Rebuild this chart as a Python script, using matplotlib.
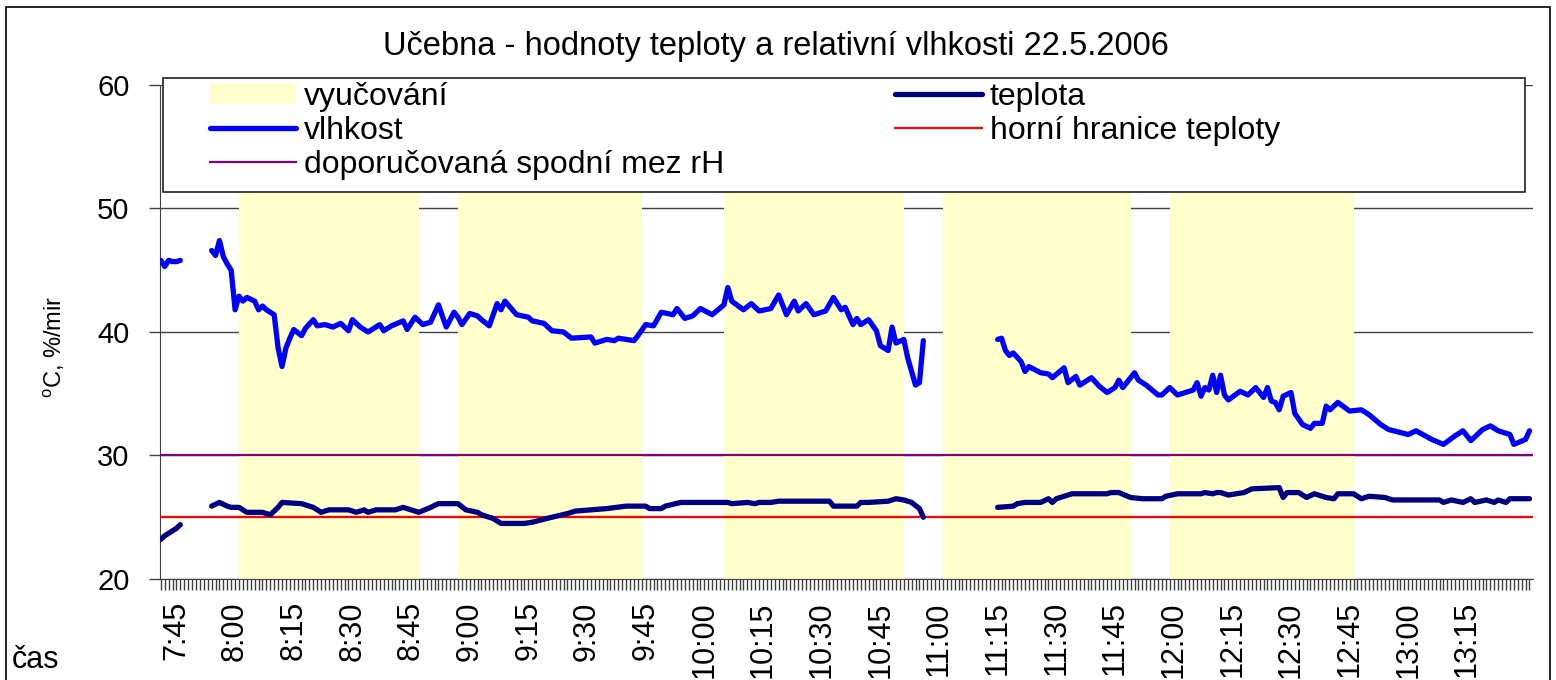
import matplotlib
matplotlib.use("Agg")
import matplotlib.pyplot as plt
from matplotlib.patches import Patch, Rectangle
from matplotlib.lines import Line2D
from matplotlib.ticker import FixedLocator

plt.rcParams['font.family'] = ['Liberation Sans', 'DejaVu Sans']
plt.rcParams['mathtext.fontset'] = 'custom'
plt.rcParams['mathtext.rm'] = 'Liberation Sans'

# vyucovani (lessons)
lesson_start = ["8:01", "8:57", "10:05", "11:01", "11:59"]
lesson_end = ["8:47", "9:44", "10:51", "11:49", "12:46"]

# vlhkost - three measured segments
hum_t1 = ["7:41", "7:42", "7:43", "7:44", "7:45", "7:46"]
hum_v1 = [45.8, 45.3, 45.8, 45.7, 45.7, 45.8]

hum_t2 = ["7:54", "7:55", "7:56", "7:57", "7:58", "7:59", "8:00", "8:01", "8:02", "8:03",
          "8:05", "8:06", "8:07", "8:08", "8:10", "8:11", "8:12", "8:13", "8:14", "8:15",
          "8:17", "8:18", "8:20", "8:21", "8:23", "8:25", "8:27", "8:29", "8:30", "8:32",
          "8:34", "8:37", "8:38", "8:40", "8:43", "8:44", "8:46", "8:48", "8:50", "8:52",
          "8:53", "8:54", "8:56", "8:57", "8:58", "9:00", "9:02", "9:03", "9:05", "9:07",
          "9:08", "9:09", "9:12", "9:15", "9:16", "9:19", "9:21", "9:24", "9:26", "9:31",
          "9:32", "9:35", "9:37", "9:38", "9:42", "9:43", "9:45", "9:47", "9:49", "9:52",
          "9:53", "9:55", "9:57", "9:59", "10:02", "10:05", "10:06", "10:07", "10:10", "10:12",
          "10:14", "10:17", "10:19", "10:21", "10:23", "10:24", "10:26", "10:28", "10:31", "10:33",
          "10:35", "10:36", "10:38", "10:39", "10:40", "10:42", "10:44", "10:45", "10:47", "10:48",
          "10:49", "10:51", "10:52", "10:54", "10:55", "10:56"]
hum_v2 = [46.6, 46.2, 47.4, 46.1, 45.5, 45.0, 41.8, 42.9, 42.5, 42.8,
          42.5, 41.8, 42.1, 41.8, 41.4, 38.7, 37.2, 38.7, 39.5, 40.2,
          39.7, 40.3, 41.0, 40.5, 40.6, 40.4, 40.7, 40.1, 41.0, 40.4,
          40.0, 40.6, 40.1, 40.5, 40.9, 40.2, 41.2, 40.6, 40.8, 42.2,
          41.3, 40.4, 41.6, 41.2, 40.6, 41.5, 41.3, 41.0, 40.5, 42.3,
          41.8, 42.5, 41.4, 41.2, 40.9, 40.7, 40.1, 40.0, 39.5, 39.6,
          39.1, 39.4, 39.3, 39.5, 39.3, 39.7, 40.6, 40.5, 41.6, 41.4,
          41.9, 41.1, 41.3, 41.9, 41.4, 42.2, 43.6, 42.5, 41.8, 42.3,
          41.7, 41.9, 43.0, 41.4, 42.5, 41.7, 42.3, 41.4, 41.7, 42.8,
          41.8, 42.0, 40.6, 41.1, 40.6, 41.0, 40.1, 38.9, 38.5, 40.4,
          39.1, 39.4, 37.9, 35.7, 35.9, 39.3]

hum_t3 = ["11:15", "11:16", "11:17", "11:18", "11:19", "11:21", "11:22", "11:23", "11:26", "11:28",
          "11:29", "11:32", "11:33", "11:35", "11:36", "11:39", "11:41", "11:43", "11:45", "11:46",
          "11:47", "11:50", "11:51", "11:53", "11:56", "11:57", "11:59", "12:01", "12:03", "12:05",
          "12:06", "12:07", "12:08", "12:09", "12:10", "12:11", "12:12", "12:13", "12:14", "12:17",
          "12:19", "12:21", "12:23", "12:24", "12:25", "12:26", "12:27", "12:28", "12:30", "12:31",
          "12:33", "12:35", "12:36", "12:38", "12:39", "12:40", "12:42", "12:45", "12:48", "12:50",
          "12:53", "12:55", "13:00", "13:02", "13:06", "13:09", "13:12", "13:14", "13:16", "13:19",
          "13:21", "13:23", "13:26", "13:27", "13:30", "13:31"]
hum_v3 = [39.4, 39.5, 38.5, 38.1, 38.3, 37.6, 36.8, 37.2, 36.7, 36.6,
          36.3, 37.1, 35.9, 36.4, 35.7, 36.3, 35.6, 35.1, 35.5, 36.1,
          35.5, 36.7, 36.1, 35.7, 34.9, 34.9, 35.5, 34.9, 35.1, 35.3,
          35.9, 34.8, 35.5, 35.3, 36.5, 35.1, 36.5, 34.9, 34.5, 35.2,
          34.9, 35.5, 34.7, 35.5, 34.4, 34.3, 33.7, 34.8, 35.1, 33.4,
          32.5, 32.2, 32.6, 32.6, 34.0, 33.7, 34.3, 33.6, 33.7, 33.3,
          32.5, 32.1, 31.7, 32.0, 31.3, 30.9, 31.6, 32.0, 31.2, 32.1,
          32.4, 32.0, 31.7, 30.9, 31.3, 32.0]

# teplota - three measured segments
tep_t1 = ["7:41", "7:42", "7:43", "7:44", "7:45", "7:46"]
tep_v1 = [23.2, 23.5, 23.7, 23.9, 24.1, 24.4]

tep_t2 = ["7:54", "7:56", "7:58", "7:59", "8:01", "8:03", "8:07", "8:09", "8:11", "8:12",
          "8:17", "8:20", "8:22", "8:24", "8:29", "8:31", "8:33", "8:34", "8:36", "8:41",
          "8:43", "8:47", "8:50", "8:52", "8:57", "8:59", "9:02", "9:03", "9:06", "9:08",
          "9:14", "9:16", "9:21", "9:25", "9:27", "9:35", "9:40", "9:45", "9:46", "9:49",
          "9:50", "9:54", "10:06", "10:07", "10:11", "10:13", "10:14", "10:17", "10:19", "10:32",
          "10:33", "10:39", "10:40", "10:42", "10:47", "10:49", "10:51", "10:53", "10:55", "10:56"]
tep_v2 = [25.9, 26.2, 25.9, 25.8, 25.8, 25.4, 25.4, 25.2, 25.8, 26.2,
          26.1, 25.8, 25.4, 25.6, 25.6, 25.4, 25.6, 25.4, 25.6, 25.6,
          25.8, 25.4, 25.8, 26.1, 26.1, 25.6, 25.4, 25.2, 24.9, 24.5,
          24.5, 24.6, 25.0, 25.3, 25.5, 25.7, 25.9, 25.9, 25.7, 25.7,
          25.9, 26.2, 26.2, 26.1, 26.2, 26.1, 26.2, 26.2, 26.3, 26.3,
          25.9, 25.9, 26.2, 26.2, 26.3, 26.5, 26.4, 26.2, 25.7, 25.0]

tep_t3 = ["11:15", "11:19", "11:20", "11:22", "11:26", "11:28", "11:29", "11:30", "11:34", "11:43",
          "11:44", "11:46", "11:49", "11:52", "11:57", "11:58", "12:01", "12:07", "12:08", "12:10",
          "12:11", "12:12", "12:14", "12:18", "12:20", "12:27", "12:28", "12:29", "12:32", "12:34",
          "12:36", "12:39", "12:41", "12:42", "12:46", "12:48", "12:50", "12:54", "12:56", "13:08",
          "13:09", "13:11", "13:14", "13:16", "13:17", "13:20", "13:22", "13:23", "13:25", "13:26",
          "13:31"]
tep_v3 = [25.8, 25.9, 26.1, 26.2, 26.2, 26.5, 26.2, 26.5, 26.9, 26.9,
          27.0, 27.0, 26.6, 26.5, 26.5, 26.7, 26.9, 26.9, 27.0, 26.9,
          27.0, 27.0, 26.8, 27.0, 27.3, 27.4, 26.6, 27.0, 27.0, 26.6,
          26.9, 26.6, 26.5, 26.9, 26.9, 26.5, 26.7, 26.6, 26.4, 26.4,
          26.2, 26.4, 26.2, 26.5, 26.2, 26.4, 26.2, 26.4, 26.2, 26.5,
          26.5]

horni_hranice = 25
spodni_mez_rh = 30

tick_times = ["7:45", "8:00", "8:15", "8:30", "8:45", "9:00", "9:15", "9:30", "9:45", "10:00",
              "10:15", "10:30", "10:45", "11:00", "11:15", "11:30", "11:45", "12:00", "12:15",
              "12:30", "12:45", "13:00", "13:15"]


def mins(t):
    h, m = t.split(':')
    return int(h) * 60 + int(m)


def to_x(times):
    return [mins(t) for t in times]


W, H = 1556, 680
fig = plt.figure(figsize=(W / 100, H / 100), dpi=100)
ax = fig.add_axes([160 / W, 1 - 579 / H, (1533 - 160) / W, (579 - 85) / H])

# vyucovani - bands
for s, e in zip(lesson_start, lesson_end):
    ax.axvspan(mins(s), mins(e), color='#FFFFCC', lw=0, zorder=1)

ax.axhline(horni_hranice, color='#FF0000', lw=1.6, zorder=3)
ax.axhline(spodni_mez_rh, color='#800080', lw=1.6, zorder=3)

for tt, vv in [(hum_t1, hum_v1), (hum_t2, hum_v2), (hum_t3, hum_v3)]:
    ax.plot(to_x(tt), vv, color='#0000FF', lw=3.8, zorder=4,
            solid_joinstyle='round', solid_capstyle='round')
for tt, vv in [(tep_t1, tep_v1), (tep_t2, tep_v2), (tep_t3, tep_v3)]:
    ax.plot(to_x(tt), vv, color='#000080', lw=3.8, zorder=4,
            solid_joinstyle='round', solid_capstyle='round')

ax.set_xlim(460.8, 811.9)
ax.set_ylim(20, 60)
ax.set_yticks([20, 30, 40, 50, 60])
ax.set_axisbelow(True)
ax.yaxis.grid(True, color='#404040', lw=1)

ax.xaxis.set_major_locator(FixedLocator(to_x(tick_times)))
ax.set_xticklabels(tick_times, rotation=90)
ax.xaxis.set_minor_locator(FixedLocator(list(range(461, 812))))
ax.tick_params(axis='x', which='both', length=8, width=1, color='#404040', pad=8, labelsize=22)
ax.tick_params(axis='y', length=8, width=1, color='#404040', pad=14, labelsize=21)

for sp in ['top', 'right']:
    ax.spines[sp].set_visible(False)
ax.spines['left'].set_color('#404040')
ax.spines['bottom'].set_color('#404040')

ax.set_ylabel(r'$^{\mathrm{o}}$C, %/mir', fontsize=17)
ax.yaxis.set_label_coords(-0.068, 0.47)

# legend box
box = Rectangle((163 / W, 1 - 192 / H), (1525 - 163) / W, (192 - 78) / H,
                transform=fig.transFigure, facecolor='white', edgecolor='#202020',
                lw=1.2, zorder=4.5, clip_on=False)
ax.add_patch(box)

handles = [Patch(facecolor='#FFFFCC', edgecolor='none'),
           Line2D([], [], color='#0000FF', lw=3.8, solid_capstyle='round'),
           Line2D([], [], color='#800080', lw=1.6),
           Line2D([], [], color='#000080', lw=3.8, solid_capstyle='round'),
           Line2D([], [], color='#FF0000', lw=1.6)]
labels = ['vyučování', 'vlhkost', 'doporučovaná spodní mez rH', 'teplota', 'horní hranice teploty']
leg = ax.legend(handles, labels, ncol=2, loc='upper left', frameon=False,
                bbox_to_anchor=(210 / W, 1 - 82 / H), bbox_transform=fig.transFigure,
                borderaxespad=0, borderpad=0, fontsize=23, handlelength=2.7,
                handleheight=0.6, handletextpad=0.25, labelspacing=0.12, columnspacing=5.35)
leg.set_zorder(5)

fig.text(776 / W, 1 - 55 / H, 'Učebna - hodnoty teploty a relativní vlhkosti 22.5.2006',
         ha='center', va='baseline', fontsize=23.5)
fig.text(12 / W, 1 - 668 / H, 'čas', ha='left', va='baseline', fontsize=22)

# outer chart frame
fig.patches.append(Rectangle((6 / W, -0.02), (1550 - 6) / W, 1 - 7 / H + 0.02,
                             transform=fig.transFigure, fill=False, edgecolor='black', lw=1.2))

fig.savefig('out.png', dpi=100)
